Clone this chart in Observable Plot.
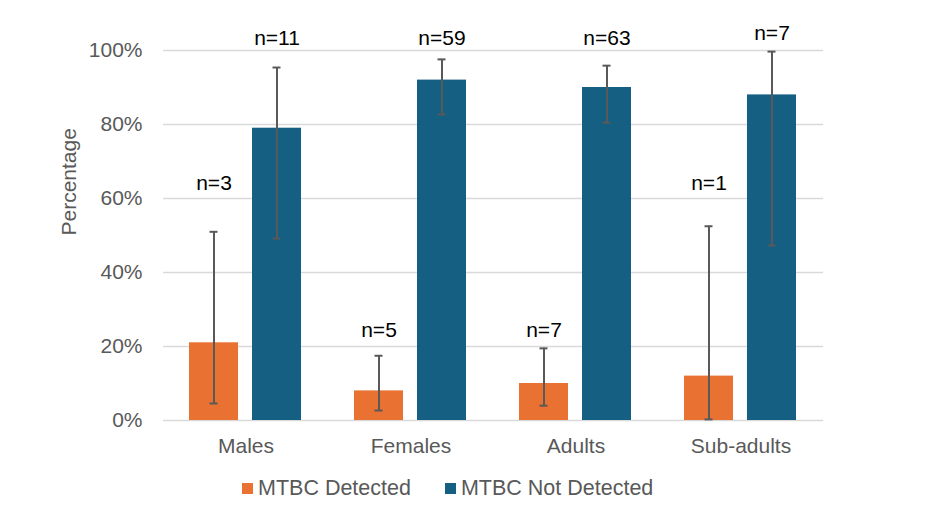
<!DOCTYPE html>
<html>
<head>
<meta charset="utf-8">
<script src="https://cdn.jsdelivr.net/npm/d3@7"></script>
<script src="https://cdn.jsdelivr.net/npm/@observablehq/plot@0.6"></script>
<style>
  body { margin: 0; background: #fff; font-family: "Liberation Sans", Arial, sans-serif; }
  #chart { width: 935px; }
  .legend { display: flex; align-items: center; margin-left: 242px; margin-top: 16px; color: #595959; font-size: 21.5px; line-height: 24px; }
  .legend .sw { width: 11px; height: 11px; display: inline-block; margin-right: 5px; }
  .legend .item { display: flex; align-items: center; margin-right: 34px; }
</style>
</head>
<body>
<div id="chart"></div>
<script>
const categories = ["Males", "Females", "Adults", "Sub-adults"];
const series = ["MTBC Detected", "MTBC Not Detected"];
const colors = ["#E97132", "#156082"];
const detected = [21, 8, 10, 12];
const detectedLow = [4.6, 2.7, 4.0, 0.3];
const detectedHigh = [51, 17.5, 19.5, 52.5];
const detectedN = [3, 5, 7, 1];
const detectedLabelAt = [64, 24.3, 24.3, 64];
const notDetected = [79, 92, 90, 88];
const notDetectedLow = [49.2, 82.7, 80.5, 47.3];
const notDetectedHigh = [95.4, 97.6, 95.9, 99.7];
const notDetectedN = [11, 59, 63, 7];
const notDetectedLabelAt = [103.2, 103.2, 103.2, 104.6];
const yTicks = [0, 20, 40, 60, 80, 100];

const rows = [];
categories.forEach((c, i) => {
  rows.push({cat: c, s: series[0], v: detected[i], lo: detectedLow[i], hi: detectedHigh[i], n: detectedN[i], ly: detectedLabelAt[i]});
  rows.push({cat: c, s: series[1], v: notDetected[i], lo: notDetectedLow[i], hi: notDetectedHigh[i], n: notDetectedN[i], ly: notDetectedLabelAt[i]});
});

const chart = Plot.plot({
  width: 935,
  height: 460,
  marginLeft: 162,
  marginRight: 112,
  marginTop: 50,
  marginBottom: 40,
  style: {fontFamily: "Liberation Sans, Arial, sans-serif", fontSize: "21px", color: "#595959", overflow: "visible"},
  fx: {domain: categories, padding: 0, label: null, axis: "bottom", tickSize: 0, tickPadding: 18},
  x: {domain: series, paddingInner: 0.22, paddingOuter: 0.41, axis: null},
  y: {domain: [0, 100], ticks: yTicks, tickFormat: d => d + "%", label: null, tickSize: 0, tickPadding: 21},
  color: {domain: series, range: colors},
  marks: [
    Plot.gridY(yTicks, {stroke: "#d9d9d9", strokeOpacity: 1, strokeWidth: 1.3, facetAnchor: null, fx: null}),
    Plot.barY(rows, {fx: "cat", x: "s", y: "v", fill: "s"}),
    Plot.ruleX(rows, {fx: "cat", x: "s", y1: "lo", y2: "hi", stroke: "#595959", strokeWidth: 2}),
    Plot.tickY(rows, {fx: "cat", x: "s", y: "lo", stroke: "#595959", strokeWidth: 2, insetLeft: 20.5, insetRight: 20.5}),
    Plot.tickY(rows, {fx: "cat", x: "s", y: "hi", stroke: "#595959", strokeWidth: 2, insetLeft: 20.5, insetRight: 20.5}),
    Plot.text(rows, {fx: "cat", x: "s", y: "ly", text: d => "n=" + d.n, fill: "#000", fontSize: 21}),
    Plot.text(["Percentage"], {frameAnchor: "left", rotate: -90, dx: -94, fill: "#595959", fontSize: 21, facetAnchor: "left"})
  ]
});
document.getElementById("chart").appendChild(chart);

const legend = document.createElement("div");
legend.className = "legend";
series.forEach((s, i) => {
  const item = document.createElement("div");
  item.className = "item";
  const sw = document.createElement("span");
  sw.className = "sw";
  sw.style.background = colors[i];
  item.appendChild(sw);
  item.appendChild(document.createTextNode(s));
  legend.appendChild(item);
});
document.getElementById("chart").appendChild(legend);
</script>
</body>
</html>
